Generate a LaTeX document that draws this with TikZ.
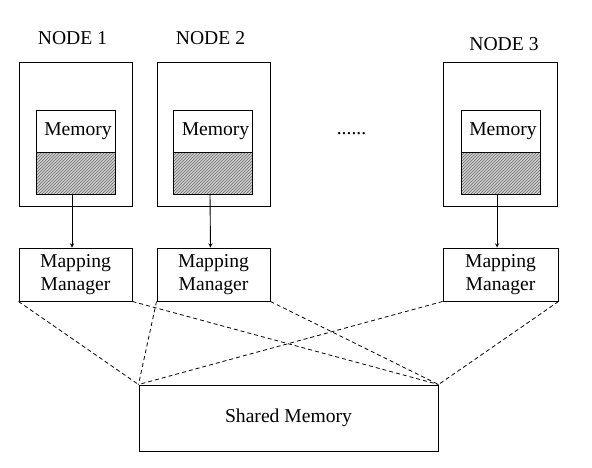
\documentclass[tikz,border=0pt]{standalone}
\usepackage{fontspec}
\setmainfont{Liberation Serif}
\usetikzlibrary{patterns}

\tikzset{
    box/.style={draw, line width=1pt, inner sep=0pt, align=center},
    hatched/.style={box, preaction={fill=gray!35}, pattern=north east lines, pattern color=black!60},
    link/.style={dashed, dash pattern=on 4pt off 3pt, line width=0.8pt}
}

\begin{document}
\begin{tikzpicture}[x=1pt, y=-1pt, >=stealth, font=\fontsize{19.6}{23}\selectfont]
    \useasboundingbox (0,0) rectangle (592,467);

    % Nodes
    \node[box, minimum width=113, minimum height=144] (node1) at (75.5,134.5) {};
    \node[box, minimum width=113, minimum height=144] (node2) at (213.5,134.5) {};
    \node[box, minimum width=114, minimum height=144] (node3) at (500,134.5) {};
    \node (lab1) at (72.5,38) {NODE 1};
    \node (lab2) at (210.5,38) {NODE 2};
    \node (lab3) at (504,44) {NODE 3};

    % Memory blocks
    \node[box, minimum width=79, minimum height=42] (mem1) at (75.5,131) {\hspace*{5pt}Memory};
    \node[box, minimum width=79, minimum height=42] (mem2) at (213,131) {\hspace*{5pt}Memory};
    \node[box, minimum width=79, minimum height=42] (mem3) at (500.5,131) {\hspace*{5pt}Memory};
    \node[hatched, minimum width=79, minimum height=42] (used1) at (75.5,173) {};
    \node[hatched, minimum width=79, minimum height=42] (used2) at (213,173) {};
    \node[hatched, minimum width=79, minimum height=42] (used3) at (500.5,173) {};

    \node (dots) at (351.5,134) {......};

    % Mapping managers
    \node[box, minimum width=113, minimum height=53] (map1) at (75.5,274.5) {Mapping\\Manager};
    \node[box, minimum width=113, minimum height=53] (map2) at (213.5,274.5) {Mapping\\Manager};
    \node[box, minimum width=115, minimum height=53] (map3) at (500.5,274.5) {Mapping\\Manager};

    \draw[->, line width=0.9pt] ([xshift=-3.5pt]used1.south) -- ([xshift=-3.5pt]map1.north);
    \draw[->, line width=0.9pt] ([xshift=-3pt]used2.south) -- ([xshift=-3pt]map2.north);
    \draw[->, line width=0.9pt] ([xshift=-3.5pt]used3.south) -- ([xshift=-3.5pt]map3.north);

    % Shared memory
    \node[box, minimum width=299, minimum height=66] (shared) at (288.5,418) {Shared Memory};

    \draw[link] (map1.south west) -- (shared.north west);
    \draw[link] (map1.south east) -- (shared.north east);
    \draw[link] (map2.south west) -- (shared.north west);
    \draw[link] (map2.south east) -- (shared.north east);
    \draw[link] (map3.south west) -- (shared.north west);
    \draw[link] (map3.south east) -- (shared.north east);
\end{tikzpicture}
\end{document}
